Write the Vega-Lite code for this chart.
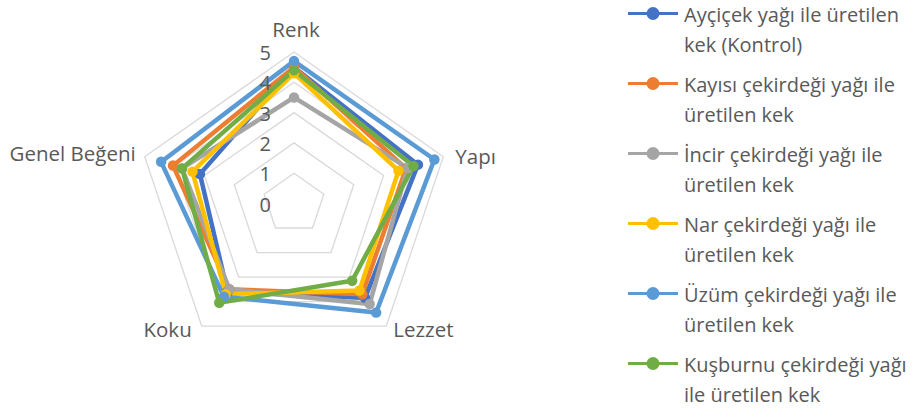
{
  "$schema": "https://vega.github.io/schema/vega-lite/v6.json",
  "width": 915,
  "height": 411,
  "padding": 0,
  "autosize": "none",
  "config": {
    "view": {"stroke": null},
    "font": "Open Sans",
    "style": {"guide-label": {"lineHeight": 30}}
  },
  "datasets": {
    "puanlar": [
      {"seri": "Ayçiçek yağı ile üretilen kek (Kontrol)", "kriter": "Renk", "deger": 4.5},
      {"seri": "Ayçiçek yağı ile üretilen kek (Kontrol)", "kriter": "Yapı", "deger": 4.15},
      {"seri": "Ayçiçek yağı ile üretilen kek (Kontrol)", "kriter": "Lezzet", "deger": 3.85},
      {"seri": "Ayçiçek yağı ile üretilen kek (Kontrol)", "kriter": "Koku", "deger": 3.6},
      {"seri": "Ayçiçek yağı ile üretilen kek (Kontrol)", "kriter": "Genel Beğeni", "deger": 3.15},
      {"seri": "Kayısı çekirdeği yağı ile üretilen kek", "kriter": "Renk", "deger": 4.5},
      {"seri": "Kayısı çekirdeği yağı ile üretilen kek", "kriter": "Yapı", "deger": 3.75},
      {"seri": "Kayısı çekirdeği yağı ile üretilen kek", "kriter": "Lezzet", "deger": 3.7},
      {"seri": "Kayısı çekirdeği yağı ile üretilen kek", "kriter": "Koku", "deger": 3.5},
      {"seri": "Kayısı çekirdeği yağı ile üretilen kek", "kriter": "Genel Beğeni", "deger": 4.05},
      {"seri": "İncir çekirdeği yağı ile üretilen kek", "kriter": "Renk", "deger": 3.5},
      {"seri": "İncir çekirdeği yağı ile üretilen kek", "kriter": "Yapı", "deger": 3.8},
      {"seri": "İncir çekirdeği yağı ile üretilen kek", "kriter": "Lezzet", "deger": 4.1},
      {"seri": "İncir çekirdeği yağı ile üretilen kek", "kriter": "Koku", "deger": 3.5},
      {"seri": "İncir çekirdeği yağı ile üretilen kek", "kriter": "Genel Beğeni", "deger": 3.75},
      {"seri": "Nar çekirdeği yağı ile üretilen kek", "kriter": "Renk", "deger": 4.3},
      {"seri": "Nar çekirdeği yağı ile üretilen kek", "kriter": "Yapı", "deger": 3.5},
      {"seri": "Nar çekirdeği yağı ile üretilen kek", "kriter": "Lezzet", "deger": 3.55},
      {"seri": "Nar çekirdeği yağı ile üretilen kek", "kriter": "Koku", "deger": 3.7},
      {"seri": "Nar çekirdeği yağı ile üretilen kek", "kriter": "Genel Beğeni", "deger": 3.4},
      {"seri": "Üzüm çekirdeği yağı ile üretilen kek", "kriter": "Renk", "deger": 4.7},
      {"seri": "Üzüm çekirdeği yağı ile üretilen kek", "kriter": "Yapı", "deger": 4.7},
      {"seri": "Üzüm çekirdeği yağı ile üretilen kek", "kriter": "Lezzet", "deger": 4.45},
      {"seri": "Üzüm çekirdeği yağı ile üretilen kek", "kriter": "Koku", "deger": 3.8},
      {"seri": "Üzüm çekirdeği yağı ile üretilen kek", "kriter": "Genel Beğeni", "deger": 4.45},
      {"seri": "Kuşburnu çekirdeği yağı ile üretilen kek", "kriter": "Renk", "deger": 4.4},
      {"seri": "Kuşburnu çekirdeği yağı ile üretilen kek", "kriter": "Yapı", "deger": 4.0},
      {"seri": "Kuşburnu çekirdeği yağı ile üretilen kek", "kriter": "Lezzet", "deger": 3.15},
      {"seri": "Kuşburnu çekirdeği yağı ile üretilen kek", "kriter": "Koku", "deger": 4.05},
      {"seri": "Kuşburnu çekirdeği yağı ile üretilen kek", "kriter": "Genel Beğeni", "deger": 3.75}
    ],
    "halkalar": [
      {"halka": 1, "kriter": "Renk"}, {"halka": 1, "kriter": "Yapı"}, {"halka": 1, "kriter": "Lezzet"}, {"halka": 1, "kriter": "Koku"}, {"halka": 1, "kriter": "Genel Beğeni"},
      {"halka": 2, "kriter": "Renk"}, {"halka": 2, "kriter": "Yapı"}, {"halka": 2, "kriter": "Lezzet"}, {"halka": 2, "kriter": "Koku"}, {"halka": 2, "kriter": "Genel Beğeni"},
      {"halka": 3, "kriter": "Renk"}, {"halka": 3, "kriter": "Yapı"}, {"halka": 3, "kriter": "Lezzet"}, {"halka": 3, "kriter": "Koku"}, {"halka": 3, "kriter": "Genel Beğeni"},
      {"halka": 4, "kriter": "Renk"}, {"halka": 4, "kriter": "Yapı"}, {"halka": 4, "kriter": "Lezzet"}, {"halka": 4, "kriter": "Koku"}, {"halka": 4, "kriter": "Genel Beğeni"},
      {"halka": 5, "kriter": "Renk"}, {"halka": 5, "kriter": "Yapı"}, {"halka": 5, "kriter": "Lezzet"}, {"halka": 5, "kriter": "Koku"}, {"halka": 5, "kriter": "Genel Beğeni"}
    ],
    "olcek": [
      {"deger": 0}, {"deger": 1}, {"deger": 2}, {"deger": 3}, {"deger": 4}, {"deger": 5}
    ],
    "kriterler": [
      {"kriter": "Renk"}, {"kriter": "Yapı"}, {"kriter": "Lezzet"}, {"kriter": "Koku"}, {"kriter": "Genel Beğeni"}
    ]
  },
  "layer": [
    {
      "data": {"name": "halkalar"},
      "transform": [
        {"calculate": "indexof(['Renk','Yapı','Lezzet','Koku','Genel Beğeni'], datum.kriter)", "as": "sira"},
        {"calculate": "datum.halka * sin(datum.sira * 2 * PI / 5)", "as": "px"},
        {"calculate": "datum.halka * cos(datum.sira * 2 * PI / 5)", "as": "py"}
      ],
      "mark": {"type": "line", "interpolate": "linear-closed", "color": "#D9D9D9", "strokeWidth": 1.3},
      "encoding": {
        "x": {"field": "px", "type": "quantitative", "scale": {"domain": [-9.363, 19.777], "nice": false, "zero": false}, "axis": null},
        "y": {"field": "py", "type": "quantitative", "scale": {"domain": [-6.848, 6.716], "nice": false, "zero": false}, "axis": null},
        "detail": {"field": "halka", "type": "nominal"},
        "order": {"field": "sira", "type": "quantitative"}
      }
    },
    {
      "data": {"name": "puanlar"},
      "transform": [
        {"calculate": "indexof(['Renk','Yapı','Lezzet','Koku','Genel Beğeni'], datum.kriter)", "as": "sira"},
        {"calculate": "datum.deger * sin(datum.sira * 2 * PI / 5)", "as": "px"},
        {"calculate": "datum.deger * cos(datum.sira * 2 * PI / 5)", "as": "py"}
      ],
      "layer": [
        {
          "mark": {"type": "line", "interpolate": "linear-closed", "strokeWidth": 4.5},
          "encoding": {
            "x": {"field": "px", "type": "quantitative"},
            "y": {"field": "py", "type": "quantitative"},
            "order": {"field": "sira", "type": "quantitative"},
            "color": {
              "field": "seri", "type": "nominal", "sort": null,
              "scale": {
                "domain": ["Ayçiçek yağı ile üretilen kek (Kontrol)", "Kayısı çekirdeği yağı ile üretilen kek", "İncir çekirdeği yağı ile üretilen kek", "Nar çekirdeği yağı ile üretilen kek", "Üzüm çekirdeği yağı ile üretilen kek", "Kuşburnu çekirdeği yağı ile üretilen kek"],
                "range": ["#4472C4", "#ED7D31", "#A5A5A5", "#FFC000", "#5B9BD5", "#70AD47"]
              },
              "legend": {
                "title": null,
                "orient": "none",
                "legendX": 643,
                "legendY": -4,
                "padding": 0,
                "symbolType": "M-5,1.5H5M1,1.5A1,1,0,1,1,-1,1.5A1,1,0,1,1,1,1.5Z",
                "symbolSize": 100,
                "symbolStrokeWidth": 3,
                "labelOffset": 21,
                "labelFontSize": 20,
                "labelColor": "#595959",
                "labelBaseline": "top",
                "labelLimit": 400,
                "rowPadding": 10,
                "labelExpr": "indexof(datum.label,'Kontrol')>=0 ? split(replace(datum.label,' kek (','|kek ('),'|') : indexof(datum.label,'Kuşburnu')>=0 ? split(replace(datum.label,' ile ','|ile '),'|') : split(replace(datum.label,' üretilen','|üretilen'),'|')"
              }
            }
          }
        },
        {
          "mark": {"type": "point", "filled": true, "size": 110, "opacity": 1},
          "encoding": {
            "x": {"field": "px", "type": "quantitative"},
            "y": {"field": "py", "type": "quantitative"},
            "color": {"field": "seri", "type": "nominal", "sort": null}
          }
        }
      ]
    },
    {
      "data": {"name": "olcek"},
      "transform": [
        {"calculate": "-0.92", "as": "px"},
        {"calculate": "datum.deger", "as": "py"}
      ],
      "mark": {"type": "text", "fontSize": 20, "color": "#595959", "align": "center", "baseline": "middle", "dy": 2},
      "encoding": {
        "x": {"field": "px", "type": "quantitative"},
        "y": {"field": "py", "type": "quantitative"},
        "text": {"field": "deger", "type": "quantitative"}
      }
    },
    {
      "data": {"name": "kriterler"},
      "transform": [
        {"calculate": "indexof(['Renk','Yapı','Lezzet','Koku','Genel Beğeni'], datum.kriter)", "as": "sira"},
        {"calculate": "5 * sin(datum.sira * 2 * PI / 5)", "as": "px"},
        {"calculate": "5 * cos(datum.sira * 2 * PI / 5)", "as": "py"}
      ],
      "encoding": {
        "x": {"field": "px", "type": "quantitative"},
        "y": {"field": "py", "type": "quantitative"},
        "text": {"field": "kriter", "type": "nominal"}
      },
      "layer": [
        {"transform": [{"filter": "datum.kriter == 'Renk'"}], "mark": {"type": "text", "fontSize": 20.5, "color": "#595959", "align": "center", "baseline": "middle", "dx": 2, "dy": -21}},
        {"transform": [{"filter": "datum.kriter == 'Yapı'"}], "mark": {"type": "text", "fontSize": 20.5, "color": "#595959", "align": "left", "baseline": "middle", "dx": 12, "dy": 1}},
        {"transform": [{"filter": "datum.kriter == 'Lezzet'"}], "mark": {"type": "text", "fontSize": 20.5, "color": "#595959", "align": "left", "baseline": "middle", "dx": 7, "dy": 5}},
        {"transform": [{"filter": "datum.kriter == 'Koku'"}], "mark": {"type": "text", "fontSize": 20.5, "color": "#595959", "align": "right", "baseline": "middle", "dx": -10, "dy": 5}},
        {"transform": [{"filter": "datum.kriter == 'Genel Beğeni'"}], "mark": {"type": "text", "fontSize": 20.5, "color": "#595959", "align": "right", "baseline": "middle", "dx": -9, "dy": -2}}
      ]
    }
  ]
}
